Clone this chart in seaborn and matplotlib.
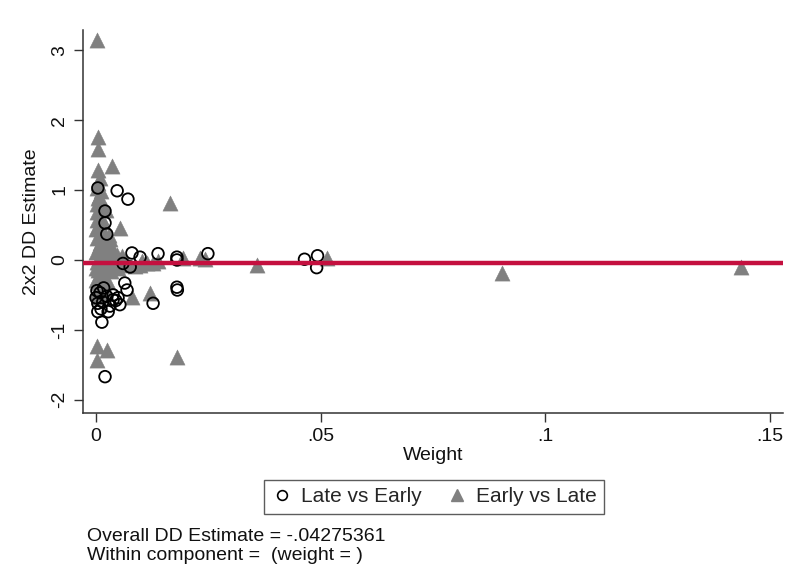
import numpy as np
import pandas as pd
import matplotlib
matplotlib.use("Agg")
import matplotlib.pyplot as plt
from matplotlib.lines import Line2D
import seaborn as sns

# Late vs Early comparisons: (weight, 2x2 DD estimate)
late_w = [0.0004, 0.0047, 0.0071, 0.0020, 0.0020, 0.0024, 0.0080, 0.0098,
          0.0138, 0.0180, 0.0180, 0.0249, 0.0464, 0.0493, 0.0491, 0.0180,
          0.0181, 0.0127, 0.0064, 0.0069, 0.0038, 0.0038, 0.0053, 0.0027,
          0.0004, 0.0004, 0.0013, 0.0020, 0.0076, 0.0049, 0.0024, 0.0000,
          0.0015, 0.0060, 0.0009, 0.0031, 0.0011, 0.0002, 0.0044, 0.0017]
late_y = [1.03, 0.99, 0.87, 0.70, 0.53, 0.37, 0.10, 0.04,
          0.09, 0.04, 0.00, 0.09, 0.01, 0.06, -0.11, -0.39,
          -0.43, -0.62, -0.33, -0.43, -0.50, -0.57, -0.64, -0.74,
          -0.74, -0.62, -0.89, -1.67, -0.10, -0.54, -0.52, -0.54,
          -0.60, -0.05, -0.47, -0.66, -0.70, -0.44, -0.58, -0.40]

# Early vs Late comparisons: (weight, 2x2 DD estimate)
early_w = [0.0002, 0.0004, 0.0004, 0.0036, 0.0004, 0.0009, 0.0002, 0.0007,
           0.0011, 0.0002, 0.0164, 0.0053, 0.0002, 0.0009, 0.0016, 0.0002,
           0.0020, 0.0007, 0.0027, 0.0000, 0.0013, 0.0031, 0.0002, 0.0018,
           0.0042, 0.0053, 0.0064, 0.0004, 0.0013, 0.0000, 0.0009, 0.0002,
           0.0007, 0.0071, 0.0087, 0.0098, 0.0113, 0.0127, 0.0138, 0.0193,
           0.0231, 0.0242, 0.0358, 0.0514, 0.0904, 0.1436, 0.0120, 0.0080,
           0.0002, 0.0024, 0.0002, 0.0180, 0.0011, 0.0029, 0.0004, 0.0016,
           0.0036, 0.0024, 0.0047, 0.0007, 0.0013, 0.0000, 0.0020, 0.0009,
           0.0004, 0.0011, 0.0022, 0.0002, 0.0016, 0.0031, 0.0007, 0.0013,
           0.0024, 0.0000, 0.0009, 0.0018, 0.0033, 0.0004, 0.0013, 0.0027,
           0.0040, 0.0058, 0.0002, 0.0011, 0.0020, 0.0007, 0.0016, 0.0004,
           0.0029, 0.0009, 0.0102, 0.0049]
early_y = [3.15, 1.76, 1.59, 1.34, 1.29, 1.17, 1.03, 0.92,
           0.80, 0.69, 0.82, 0.46, 0.57, 0.50, 0.40, 0.31,
           0.26, 0.20, 0.14, 0.11, 0.06, 0.03, -0.03, -0.06,
           -0.03, 0.00, -0.03, -0.14, -0.21, -0.29, -0.36, -0.43,
           -0.53, -0.07, -0.09, -0.07, -0.04, -0.05, -0.02, 0.03,
           0.03, 0.01, -0.07, 0.03, -0.19, -0.10, -0.47, -0.53,
           -1.23, -1.29, -1.43, -1.39, 0.62, 0.36, 0.88, 0.09,
           0.17, -0.10, 0.07, -0.24, -0.32, 0.44, -0.40, 0.24,
           1.10, 0.98, 0.72, 0.80, 0.55, 0.30, 0.34, 0.15,
           0.00, -0.12, -0.18, -0.27, -0.16, -0.33, -0.38, -0.31,
           -0.02, 0.05, -0.46, -0.50, -0.44, 0.03, -0.07, 0.48,
           0.12, -0.06, -0.01, -0.12]

overall_dd = -0.04275361

x_ticks = [0, 0.05, 0.1, 0.15]
x_tick_labels = ["0", ".05", ".1", ".15"]
y_ticks = [-2, -1, 0, 1, 2, 3]
y_tick_labels = ["-2", "-1", "0", "1", "2", "3"]

late_df = pd.DataFrame({"weight": late_w, "estimate": late_y})
early_df = pd.DataFrame({"weight": early_w, "estimate": early_y})

sns.set_style("ticks")
plt.rcParams["font.family"] = ["Liberation Sans", "DejaVu Sans"]

fig = plt.figure(figsize=(7.95, 5.84), dpi=100)
ax = fig.add_axes([0.1044, 0.2928, 0.8805, 0.6558])

gray = "#808080"
sns.scatterplot(data=early_df, x="weight", y="estimate", ax=ax, marker="^",
                s=120, color=gray, edgecolor=gray, linewidth=0.3, zorder=2)
sns.scatterplot(data=late_df, x="weight", y="estimate", ax=ax, marker="o",
                s=70, facecolors="none", edgecolors="black", linewidth=1.3,
                zorder=3)
ax.axhline(overall_dd, color="#C4103F", linewidth=3.2, zorder=4)

ax.set_xlim(-0.0029, 0.1529)
ax.set_ylim(-2.19, 3.29)
ax.set_xticks(x_ticks)
ax.set_xticklabels(x_tick_labels)
ax.set_yticks(y_ticks)
ax.set_yticklabels(y_tick_labels, rotation=90, va="center")
ax.tick_params(axis="both", direction="out", length=6.5, width=1,
               color="#333333", labelsize=14, labelcolor="#111111", pad=4)

ax.set_xlabel("Weight", fontsize=14, color="#111111", labelpad=2)
ax.set_ylabel("2x2 DD Estimate", fontsize=14, color="#111111", labelpad=8)

for side in ("top", "right"):
    ax.spines[side].set_visible(False)
for side in ("left", "bottom"):
    ax.spines[side].set_color("#333333")
    ax.spines[side].set_linewidth(1.1)

handles = [
    Line2D([], [], linestyle="none", marker="o", markersize=7,
           markerfacecolor="none", markeredgecolor="black", markeredgewidth=1.2,
           label="Late vs Early"),
    Line2D([], [], linestyle="none", marker="^", markersize=8,
           markerfacecolor=gray, markeredgecolor=gray, label="Early vs Late"),
]
leg = fig.legend(handles=handles, loc="center", bbox_to_anchor=(0.546, 0.149),
                 ncol=2, frameon=True, fancybox=False, fontsize=15,
                 handletextpad=0.4, columnspacing=1.2, borderpad=0.35,
                 handlelength=1.0)
leg.get_frame().set_edgecolor("#333333")
leg.get_frame().set_linewidth(1.0)

fig.text(0.109, 0.0805, "Overall DD Estimate = -.04275361", fontsize=14,
         va="center", ha="left", color="#111111")
fig.text(0.109, 0.048, "Within component =  (weight = )", fontsize=14,
         va="center", ha="left", color="#111111")

fig.savefig("out.png", dpi=100, facecolor="white")
